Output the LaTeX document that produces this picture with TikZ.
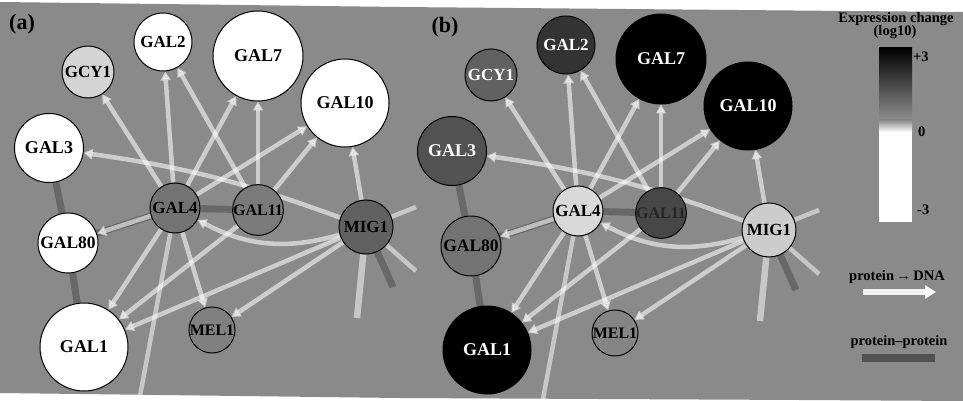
\documentclass[tikz,border=0pt]{standalone}
\usepackage{fontspec}
\setmainfont{Liberation Serif}
\usetikzlibrary{arrows.meta}

\definecolor{bg}{RGB}{138,138,138}
\pgfdeclarelayer{back}
\pgfdeclarelayer{links}
\pgfsetlayers{back,links,main}

\newcommand\fs[1]{\bfseries\fontsize{#1}{#1}\selectfont}

\tikzset{
  gene/.style={circle, draw=black, line width=1pt, inner sep=0pt, minimum size=#1, font=\fs{17}},
  pd/.style={draw=white, line width=4.5pt, opacity=0.58, -{Triangle[length=9pt,width=10pt]}},
  loose/.style={draw=white, line width=4.5pt, opacity=0.52},
  pp/.style={draw=black!75, line width=7pt, opacity=0.45},
  tag/.style={font=\fs{14.5}, inner sep=0pt},
}

% one network panel; #1 is a prefix for the node names
\newcommand\genepanel[1]{%
  \node[gene=52pt, c-gcy1]  (#1gcy1)  at (88,72)   {GCY1};
  \node[gene=58pt, c-gal2]  (#1gal2)  at (163,42)  {GAL2};
  \node[gene=90pt, c-gal7, font=\fs{18}]  (#1gal7)  at (258,56)  {GAL7};
  \node[gene=88pt, c-gal10, font=\fs{18}] (#1gal10) at (345,103) {GAL10};
  \node[gene=69pt, c-gal3, font=\fs{18}]  (#1gal3)  at (49,148)  {GAL3};
  \node[gene=60pt, c-gal80, font=\fs{17.5}] (#1gal80) at (68,243)  {GAL80};
  \node[gene=88pt, c-gal1, font=\fs{18}]  (#1gal1)  at (84,347)  {GAL1};
  \node[gene=50pt, c-gal4]  (#1gal4)  at (175,208) {GAL4};
  \node[gene=50pt, c-gal11, font=\fs{16}] (#1gal11) at (258,210) {GAL11};
  \node[gene=54pt, c-mig1]  (#1mig1)  at (366,227) {MIG1};
  \node[gene=46pt, c-mel1, font=\fs{16}]  (#1mel1)  at (212,330) {MEL1};
  \coordinate (#1down)  at (140,396);
  \coordinate (#1mdown) at (357,318);
  \coordinate (#1mur)   at (416,207);
  \coordinate (#1mlr)   at (416,271);
  \coordinate (#1mdark) at (393,287);
  \begin{pgfonlayer}{links}
    % protein--protein
    \draw[pp] (#1gal3) -- (#1gal80);
    \draw[pp] (#1gal80) -- (#1gal1);
    \draw[pp] (#1gal80) -- (#1gal4);
    \draw[pp] (#1gal4) -- (#1gal11);
    \draw[pp] (#1mig1) -- (#1mdark);
    % protein -> DNA
    \draw[pd] (#1gal4) -- (#1gcy1);
    \draw[pd] (#1gal4) -- (#1gal2);
    \draw[pd] (#1gal4) -- (#1gal7);
    \draw[pd] (#1gal4) -- (#1gal10);
    \draw[pd] (#1gal4) -- (#1gal80);
    \draw[pd] (#1gal4) -- (#1gal1);
    \draw[pd] (#1gal4) -- (#1mel1);
    \draw[pd] (#1gal11) -- (#1gal2);
    \draw[pd] (#1gal11) -- (#1gal7);
    \draw[pd] (#1gal11) -- (#1gal10);
    \draw[pd] (#1gal11) -- (#1gal1);
    \draw[pd] (#1mig1) -- (#1gal10);
    \draw[pd] (#1mig1) to[bend right=6] (#1gal3);
    \draw[pd] (#1mig1) -- (#1gal1);
    \draw[pd] (#1mig1) -- (#1mel1);
    \draw[pd] (#1mig1) to[bend left=22] (#1gal4);
    % links leaving the panel
    \draw[loose] (#1gal4) -- (#1down);
    \draw[loose, line width=6.5pt] (#1mig1) -- (#1mdown);
    \draw[loose] (#1mig1) -- (#1mur);
    \draw[loose] (#1mig1) -- (#1mlr);
  \end{pgfonlayer}
}

\begin{document}
\begin{tikzpicture}[x=1pt, y=-1pt]
  \useasboundingbox (0,0) rectangle (963,401);
  \begin{pgfonlayer}{back}
    \fill[white] (0,0) rectangle (963,401);
    \fill[bg] (0,2) -- (400,7) -- (963,12) -- (963,401) -- (800,400) -- (400,398) -- (0,393) -- cycle;
  \end{pgfonlayer}

  % panel (a): change after GAL4 perturbation
  \begin{scope}[
    c-gcy1/.style={fill=black!17},
    c-gal2/.style={fill=white}, c-gal7/.style={fill=white},
    c-gal10/.style={fill=white}, c-gal3/.style={fill=white},
    c-gal80/.style={fill=white}, c-gal1/.style={fill=white},
    c-gal4/.style={fill=black!55}, c-gal11/.style={fill=black!52},
    c-mig1/.style={fill=black!62}, c-mel1/.style={fill=black!50}]
    \genepanel{a}
  \end{scope}

  % panel (b)
  \begin{scope}[shift={(403,3)},
    c-gcy1/.style={fill=black!62, text=white},
    c-gal2/.style={fill=black!80, text=white},
    c-gal7/.style={fill=black, text=white},
    c-gal10/.style={fill=black, text=white},
    c-gal3/.style={fill=black!68, text=white},
    c-gal80/.style={fill=black!55},
    c-gal1/.style={fill=black, text=white},
    c-gal4/.style={fill=black!15},
    c-gal11/.style={fill=black!72, text=black!85},
    c-mig1/.style={fill=black!20},
    c-mel1/.style={fill=black!48}]
    \genepanel{b}
  \end{scope}

  \node[font=\fs{22}] (lbla) at (22,24) {(a)};
  \node[font=\fs{22}] (lblb) at (445,27) {(b)};

  % legend
  \node[tag] (lgtitle) at (896,19) {Expression change};
  \node[tag] (lglog) at (895,32) {(log10)};
  \shade[top color=black, bottom color=bg] (879,48) rectangle (912,118);
  \shade[top color=bg, bottom color=white] (879,120) rectangle (912,132);
  \fill[white] (879,132) rectangle (912,222);
  \node[tag, anchor=west] (lgp3) at (913,57) {+3};
  \node[tag, anchor=west] (lg0) at (918,132) {0};
  \node[tag, anchor=west] (lgm3) at (917,210) {-3};
  \node[tag] (lgpd) at (897,277) {protein\,→\,DNA};
  \coordinate (lgaS) at (863,292);
  \coordinate (lgaE) at (936,292);
  \draw[white, line width=6pt, opacity=0.9, -{Triangle[length=11pt,width=13pt]}] (lgaS) -- (lgaE);
  \node[tag] (lgpp) at (899,342) {protein–protein};
  \fill[black!68] (862,354) rectangle (935,362);
\end{tikzpicture}
\end{document}
